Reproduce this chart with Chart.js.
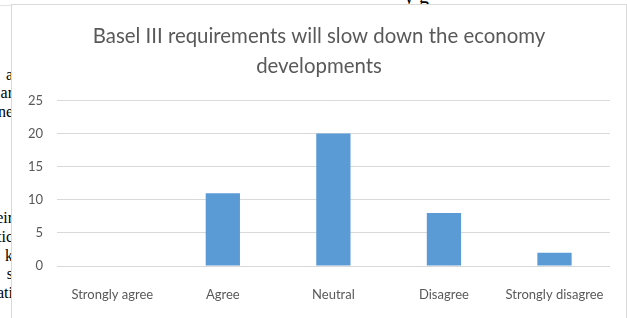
<!DOCTYPE html>
<html lang="en">
<head>
    <meta charset="UTF-8">
    <title>Basel III requirements</title>
    <style>
        body {
            margin: 0;
            width: 627px;
            height: 318px;
            background: #fff;
            position: relative;
            overflow: hidden;
        }
        .behind {
            position: absolute;
            font-family: "Liberation Serif", serif;
            font-size: 16px;
            color: #000;
            white-space: nowrap;
        }
        .side {
            position: absolute;
            left: 0;
            top: 0;
            width: 11px;
            height: 318px;
            overflow: hidden;
        }
        .side div {
            position: absolute;
            right: -2px;
            font-family: "Liberation Serif", serif;
            font-size: 16px;
            line-height: 18px;
        }
        .rule {
            position: absolute;
            left: 0;
            top: 5px;
            width: 11px;
            height: 1px;
            background: #e3e3e3;
        }
        .chart-box {
            position: absolute;
            left: 11px;
            top: 4px;
            width: 614px;
            height: 313px;
            border: 1px solid #d9d9d9;
            background: #fff;
        }
    </style>
</head>
<body>
    <!-- bits of the page text the chart sits on -->
    <div class="behind" style="left:404px; top:-15px; font-size:20px;">y g</div>
    <div class="rule"></div>
    <div class="side">
        <div style="top:66px">a</div>
        <div style="top:84px">ar</div>
        <div style="top:103px">ne</div>
        <div style="top:209px">eir</div>
        <div style="top:228px">tic</div>
        <div style="top:247px">k</div>
        <div style="top:265px">s</div>
        <div style="top:284px">ati</div>
    </div>

    <div class="chart-box">
        <canvas id="chart" width="614" height="313"></canvas>
    </div>

    <script src="https://cdn.jsdelivr.net/npm/chart.js"></script>
    <script>
    // values
    const categories = ['Strongly agree', 'Agree', 'Neutral', 'Disagree', 'Strongly disagree'];
    const responses = [0, 11, 20, 8, 2];
    const yTicks = [0, 5, 10, 15, 20, 25];

    const fontFamily = 'Lato, "Liberation Sans", sans-serif';
    const textGrey = '#595959';

    // centre the title on the whole box, not just the padded area
    const titleCentre = {
        id: 'titleCentre',
        afterLayout(chart) {
            chart.titleBlock.left = 0;
            chart.titleBlock.right = chart.width;
        }
    };

    new Chart(document.getElementById('chart').getContext('2d'), {
        type: 'bar',
        data: {
            labels: categories,
            datasets: [{
                data: responses,
                backgroundColor: '#5b9bd5',
                borderWidth: 0,
                barPercentage: 0.31,
                categoryPercentage: 1
            }]
        },
        options: {
            responsive: false,
            animation: false,
            layout: {
                padding: { left: 0, right: 16, top: 0, bottom: 0 }
            },
            plugins: {
                legend: { display: false },
                tooltip: { enabled: false },
                title: {
                    display: true,
                    text: ['Basel III requirements will slow down the economy', 'developments'],
                    color: textGrey,
                    font: { family: fontFamily, size: 20.4, weight: 'normal', lineHeight: 1.48 },
                    padding: { top: 16, bottom: 19 }
                }
            },
            scales: {
                x: {
                    grid: { display: false, drawTicks: false },
                    border: { display: true, color: '#d9d9d9' },
                    ticks: {
                        color: textGrey,
                        font: { family: fontFamily, size: 13 },
                        padding: 21,
                        maxRotation: 0,
                        autoSkip: false
                    },
                    afterFit: scale => { scale.height = 52; }
                },
                y: {
                    min: 0,
                    max: 25,
                    afterBuildTicks: scale => {
                        scale.ticks = yTicks.map(v => ({ value: v }));
                    },
                    grid: { color: '#d9d9d9', drawTicks: false },
                    border: { display: false },
                    ticks: {
                        color: textGrey,
                        font: { family: fontFamily, size: 13 },
                        padding: 14
                    },
                    afterFit: scale => { scale.width = 45; }
                }
            }
        },
        plugins: [titleCentre]
    });
    </script>
</body>
</html>
